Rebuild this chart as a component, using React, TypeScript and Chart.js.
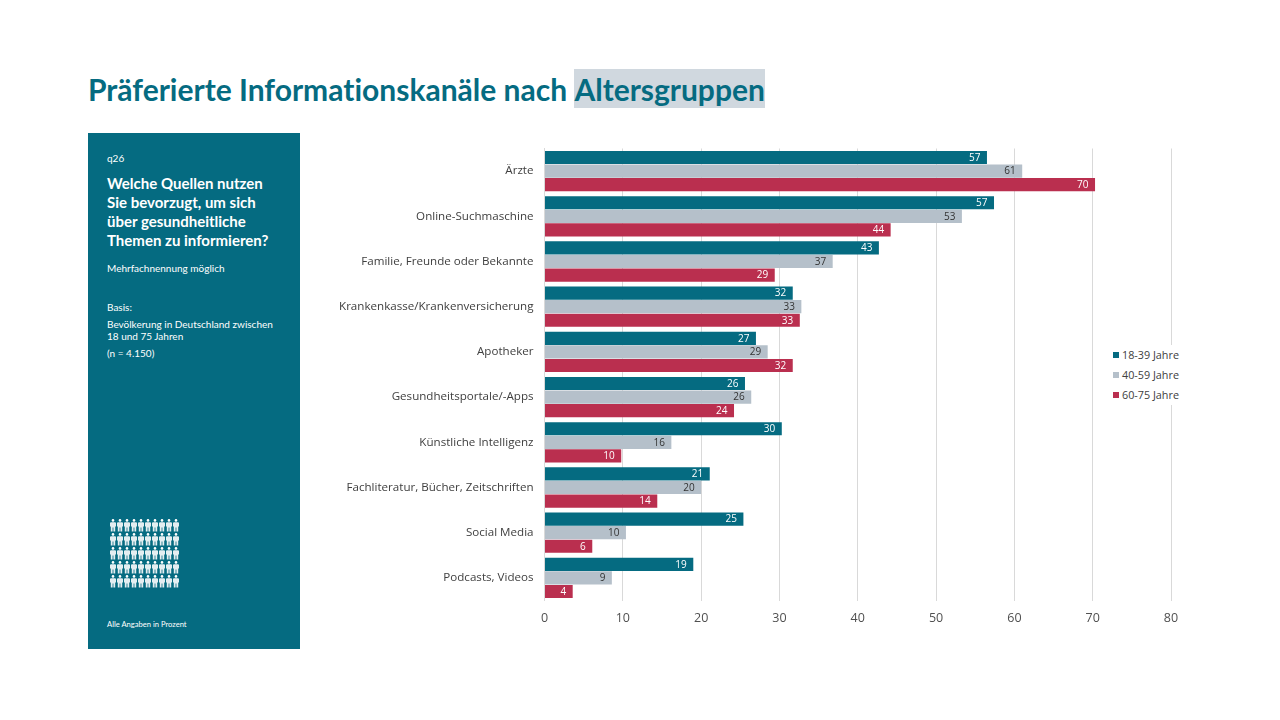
import { useEffect, useRef } from "react"
import { Chart, registerables, Plugin } from "chart.js"

Chart.register(...registerables)

const categories = [
	"Ärzte",
	"Online-Suchmaschine",
	"Familie, Freunde oder Bekannte",
	"Krankenkasse/Krankenversicherung",
	"Apotheker",
	"Gesundheitsportale/-Apps",
	"Künstliche Intelligenz",
	"Fachliteratur, Bücher, Zeitschriften",
	"Social Media",
	"Podcasts, Videos"
]
const young = [56.5, 57.4, 42.7, 31.7, 27.0, 25.6, 30.3, 21.1, 25.4, 19.0]
const middle = [61.0, 53.3, 36.8, 32.8, 28.5, 26.4, 16.2, 20.0, 10.4, 8.6]
const old = [70.3, 44.2, 29.4, 32.6, 31.7, 24.2, 9.8, 14.4, 6.1, 3.6]
const seriesNames = ["18-39 Jahre", "40-59 Jahre", "60-75 Jahre"]
const seriesColors = ["#056b81", "#b5c0ca", "#ba2f4f"]
const labelColors = ["#ffffff", "#333333", "#ffffff"]

const TEAL = "#056b81"
const UI_FONT = "'Open Sans', sans-serif"
const TEXT_FONT = "Lato, sans-serif"

// draws the rounded value inside the end of each bar
const barLabels: Plugin<"bar"> = {
	id: "barLabels",
	afterDatasetsDraw(chart) {
		const ctx = chart.ctx
		ctx.save()
		ctx.font = `10px ${UI_FONT}`
		ctx.textAlign = "right"
		ctx.textBaseline = "middle"
		chart.data.datasets.forEach((dataset, i) => {
			ctx.fillStyle = labelColors[i]
			chart.getDatasetMeta(i).data.forEach((bar, j) => {
				const value = dataset.data[j] as number
				ctx.fillText(String(Math.round(value)), bar.x - 6.5, bar.y + 0.5)
			})
		})
		ctx.restore()
	}
}

const panelText = (top: number, size: number, text: string, bold = false) => (
	<div
		style={{
			position: "absolute",
			left: 19,
			top: top - 133,
			fontSize: size,
			fontWeight: bold ? 700 : 400,
			lineHeight: 1,
			whiteSpace: "nowrap",
			color: "#fff"
		}}
	>
		{text}
	</div>
)

function Person({ x, y }: { x: number; y: number }) {
	return (
		<svg
			width="6"
			height="13"
			viewBox="0 0 6 13"
			style={{ position: "absolute", left: x, top: y }}
		>
			<circle cx="3" cy="1.4" r="1.3" fill="#fff" />
			<path d="M1 3.2h4l1 .6V7.5H5.2V12.5H3.4V8.5H2.6v4H0.8V7.5H0V3.8z" fill="#e4eef1" />
		</svg>
	)
}

export default function App() {
	const canvasRef = useRef<HTMLCanvasElement>(null)

	useEffect(() => {
		const ctx = canvasRef.current?.getContext("2d") as CanvasRenderingContext2D
		const chart = new Chart(ctx, {
			type: "bar",
			data: {
				labels: categories,
				datasets: [young, middle, old].map((data, i) => ({
					label: seriesNames[i],
					data,
					backgroundColor: seriesColors[i],
					categoryPercentage: 0.9,
					barPercentage: 0.97
				}))
			},
			options: {
				indexAxis: "y",
				animation: false,
				responsive: false,
				layout: { padding: { top: 18.5, right: 109, left: 0, bottom: 0 } },
				plugins: {
					legend: { display: false },
					tooltip: { enabled: false }
				},
				scales: {
					x: {
						min: 0,
						max: 80,
						ticks: {
							stepSize: 10,
							padding: 10,
							color: "#505050",
							font: { family: UI_FONT, size: 12.5 }
						},
						grid: { color: "#d9d9d9", drawTicks: false },
						border: { display: false },
						afterFit(scale) {
							scale.height = 49.5
						}
					},
					y: {
						ticks: {
							padding: 11,
							color: "#404040",
							font: { family: UI_FONT, size: 11.6 }
						},
						grid: { display: false, drawTicks: false },
						border: { color: "#d9d9d9" },
						afterFit(scale) {
							scale.width = 244.5
						}
					}
				}
			},
			plugins: [barLabels]
		})

		return () => {
			chart.destroy()
		}
	}, [])

	const people = []
	for (let row = 0; row < 5; row++) {
		for (let col = 0; col < 10; col++) {
			people.push(<Person key={`${row}-${col}`} x={21.5 + col * 7.1} y={386 + row * 14} />)
		}
	}

	return (
		<div
			style={{
				position: "absolute",
				left: 0,
				top: 0,
				width: 1280,
				height: 720,
				overflow: "hidden",
				background: "#fff",
				fontFamily: TEXT_FONT,
				fontVariantLigatures: "none"
			}}
		>
			<div
				style={{
					position: "absolute",
					left: 88,
					top: 69,
					height: 39,
					lineHeight: "41px",
					fontSize: 30,
					fontWeight: 700,
					color: TEAL,
					whiteSpace: "nowrap"
				}}
			>
				Präferierte Informationskanäle nach <span style={{ background: "#d0d8df", display: "inline-block", height: 39 }}>Altersgruppen</span>
			</div>

			<div style={{ position: "absolute", left: 88, top: 133, width: 212, height: 516, background: TEAL }}>
				{panelText(153, 10, "q26")}
				{panelText(175.5, 15, "Welche Quellen nutzen", true)}
				{panelText(194.5, 15, "Sie bevorzugt, um sich", true)}
				{panelText(213.5, 15, "über gesundheitliche", true)}
				{panelText(232.5, 15, "Themen zu informieren?", true)}
				{panelText(263, 10, "Mehrfachnennung möglich")}
				{panelText(302, 10, "Basis:")}
				{panelText(319, 10, "Bevölkerung in Deutschland zwischen")}
				{panelText(331, 10, "18 und 75 Jahren")}
				{panelText(348, 10, "(n = 4.150)")}
				{people}
				{panelText(620.5, 7.6, "Alle Angaben in Prozent")}
			</div>

			<canvas
				ref={canvasRef}
				width={980}
				height={520}
				style={{ position: "absolute", left: 300, top: 130 }}
			>
				Your browser does not support the canvas element.
			</canvas>

			<div
				style={{
					position: "absolute",
					left: 1105,
					top: 345,
					width: 84,
					height: 60,
					background: "#fff"
				}}
			>
				{seriesNames.map((name, i) => (
					<div
						key={name}
						style={{
							position: "absolute",
							left: 8,
							top: i * 20,
							height: 20,
							lineHeight: "20px",
							fontFamily: UI_FONT,
							fontSize: 10.8,
							color: "#404040",
							whiteSpace: "nowrap"
						}}
					>
						<span
							style={{
								display: "inline-block",
								width: 6,
								height: 6,
								marginRight: 3,
								verticalAlign: 1,
								background: seriesColors[i]
							}}
						/>
						{name}
					</div>
				))}
			</div>
		</div>
	)
}
